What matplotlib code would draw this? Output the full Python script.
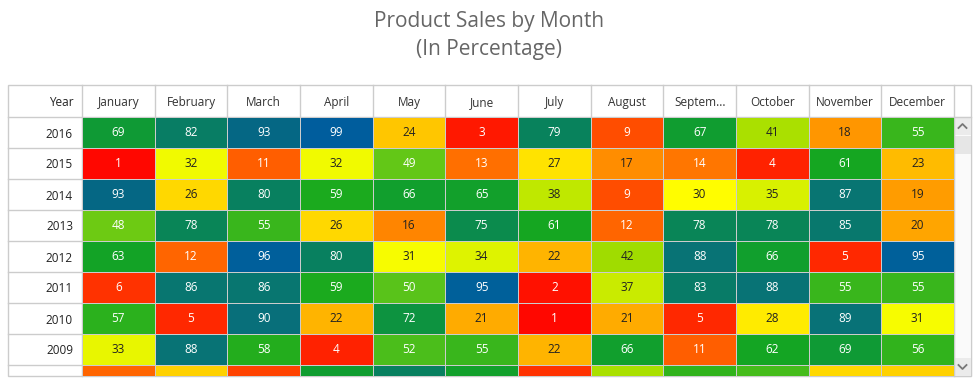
import numpy as np
import matplotlib.pyplot as plt
from matplotlib.colors import LinearSegmentedColormap
from matplotlib.patches import Rectangle

plt.rcParams['font.family'] = ['Open Sans', 'DejaVu Sans']

months = ['January', 'February', 'March', 'April', 'May', 'June', 'July',
          'August', 'Septem...', 'October', 'November', 'December']
years = ['2016', '2015', '2014', '2013', '2012', '2011', '2010', '2009', '2008']

sales = [
    [69, 82, 93, 99, 24, 3, 79, 9, 67, 41, 18, 55],   # 2016
    [1, 32, 11, 32, 49, 13, 27, 17, 14, 4, 61, 23],   # 2015
    [93, 26, 80, 59, 66, 65, 38, 9, 30, 35, 87, 19],  # 2014
    [48, 78, 55, 26, 16, 75, 61, 12, 78, 78, 85, 20], # 2013
    [63, 12, 96, 80, 31, 34, 22, 42, 88, 66, 5, 95],  # 2012
    [6, 86, 86, 59, 50, 95, 2, 37, 83, 88, 55, 55],   # 2011
    [57, 5, 90, 22, 72, 21, 1, 21, 5, 28, 89, 31],    # 2010
    [33, 88, 58, 4, 52, 55, 22, 66, 11, 62, 69, 56],  # 2009
    [12, 25, 8, 67, 80, 65, 6, 41, 56, 53, 26, 25],   # 2008 (mostly scrolled out)
]
data = np.array(sales)

cmap = LinearSegmentedColormap.from_list('sales', [
    (0.0, '#ff0000'), (0.14, '#ff7800'), (0.22, '#ffb400'), (0.3, '#ffff00'),
    (0.42, '#a0dc00'), (0.5, '#5ac41a'), (0.6, '#16a81e'), (0.7, '#0e9838'),
    (0.8, '#08805f'), (0.9, '#08707a'), (0.93, '#06687f'), (0.95, '#00609a'),
    (1.0, '#005c9e')])

W, H = 979, 383
fig = plt.figure(figsize=(W / 100, H / 100), dpi=100)

# background axes in pixel units for the table frame / scrollbar
bg = fig.add_axes([0, 0, 1, 1])
bg.set_xlim(0, W)
bg.set_ylim(H, 0)
bg.axis('off')

left, right, top, bottom = 8, 971, 85, 376
head_bot, col0 = 117, 82
grid_right = 954
line = '#cccccc'

bg.add_patch(Rectangle((left, top), right - left, bottom - top, fill=False, ec=line, lw=1))
bg.plot([left, right], [head_bot, head_bot], color=line, lw=1)
bg.plot([col0, col0], [top, bottom], color=line, lw=1)
bg.plot([grid_right, grid_right], [top, bottom], color=line, lw=1)

# scrollbar
sx = (grid_right + right) / 2
bg.add_patch(Rectangle((grid_right, head_bot), right - grid_right, bottom - head_bot,
                       fc='#fafafa', ec=line, lw=0.8))
bg.add_patch(Rectangle((grid_right, head_bot), right - grid_right, 18, fc='#ebebeb', ec='none'))
bg.add_patch(Rectangle((grid_right, 136), right - grid_right, 18, fc='#e6e6e6', ec='none'))
bg.add_patch(Rectangle((grid_right, 358), right - grid_right, 18, fc='#ebebeb', ec='none'))
bg.plot([sx - 4, sx, sx + 4], [128, 124, 128], color='#777777', lw=1.3)
bg.plot([sx - 4, sx, sx + 4], [365, 369, 365], color='#777777', lw=1.3)

fig.text(0.5, 1 - 22 / H, 'Product Sales by Month', ha='center', va='center',
         fontsize=15, color='#666666')
fig.text(0.5, 1 - 49 / H, '(In Percentage)', ha='center', va='center',
         fontsize=15, color='#666666')

# cell grid
row_h = 31
nrows = (bottom - head_bot) / row_h
ax = fig.add_axes([col0 / W, 1 - bottom / H, (grid_right - col0) / W, (bottom - head_bot) / H])
ax.pcolormesh(np.arange(13), np.arange(len(years) + 1), data, cmap=cmap, vmin=0, vmax=100,
              edgecolors=line, linewidth=0.6)
ax.set_xlim(0, 12)
ax.set_ylim(nrows, 0)
for s in ax.spines.values():
    s.set_visible(False)

ax.xaxis.tick_top()
ax.set_xticks(np.arange(12) + 0.5)
ax.set_xticklabels(months, fontsize=8.5, color='#333333')
ax.set_yticks(np.arange(8) + 0.5)
ax.set_yticklabels(years[:8], fontsize=8.5, color='#222222')
ax.tick_params(length=0)
ax.tick_params(axis='x', pad=6)
ax.tick_params(axis='y', pad=6.5)

# header column separators
for i in range(1, 12):
    ax.plot([i, i], [0, -(head_bot - top) / row_h], color=line, lw=1, clip_on=False)
# row lines through the year column
col_w = (grid_right - col0) / 12
for j in range(1, 9):
    ax.plot([-(col0 - left) / col_w, 0], [j, j], color=line, lw=1, clip_on=False)
ax.text(-0.11, -(head_bot - 106) / row_h, 'Year', ha='right', va='baseline', fontsize=8.5,
        color='#222222')

# values (the 2008 row is scrolled below the view, so its numbers are hidden)
for r in range(8):
    for c in range(12):
        v = data[r, c]
        tc = '#222222' if 15 < v < 45 else 'white'
        ax.text(c + 0.5, r + 0.5, str(v), ha='center', va='center', fontsize=8.5, color=tc)

fig.savefig('out.png', dpi=100)
